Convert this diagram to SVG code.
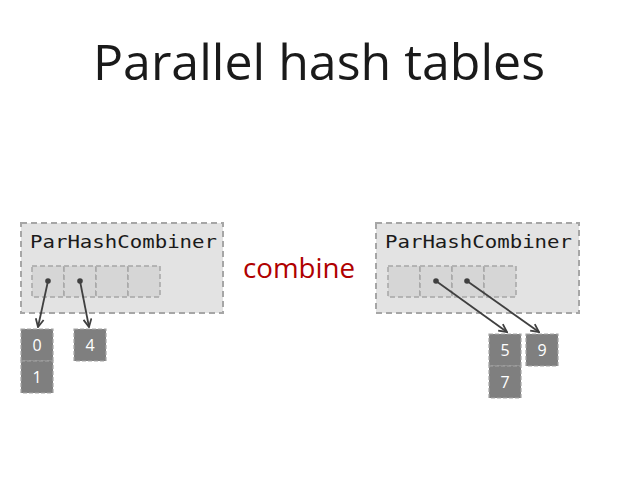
<svg xmlns="http://www.w3.org/2000/svg" width="638" height="479" viewBox="0 0 638 479">
<defs>
<style>
.container{fill:#e3e3e3;stroke:#a6a6a6;stroke-width:2;stroke-dasharray:6,4}
.cell{fill:#d6d6d6;stroke:#a6a6a6;stroke-width:1.5;stroke-dasharray:5,3}
.box{fill:#7f7f7f;stroke:#a6a6a6;stroke-width:1.2;stroke-dasharray:4,2}
.lbl{font-family:"DejaVu Sans Mono","Liberation Mono",monospace;font-size:18px;fill:#1a1a1a}
.num{font-family:"Open Sans","Liberation Sans",sans-serif;font-size:16px;fill:#ffffff;text-anchor:middle}
.edge{stroke:#404040;stroke-width:1.8;fill:none;marker-end:url(#arr);marker-start:url(#dot)}
</style>
<marker id="arr" viewBox="0 0 10 10" refX="9" refY="5" markerWidth="10" markerHeight="10" markerUnits="userSpaceOnUse" orient="auto">
<path d="M1,1 L9,5 L1,9" fill="none" stroke="#404040" stroke-width="1.8"/>
</marker>
<marker id="dot" viewBox="0 0 6 6" refX="3" refY="3" markerWidth="6" markerHeight="6" markerUnits="userSpaceOnUse">
<circle cx="3" cy="3" r="2.8" fill="#404040"/>
</marker>
</defs>
<rect width="638" height="479" fill="#ffffff"/>
<text x="319" y="80" text-anchor="middle" font-family="'Open Sans','Liberation Sans',sans-serif" font-size="50" fill="#1a1a1a" textLength="452" lengthAdjust="spacingAndGlyphs">Parallel hash tables</text>
<g id="left-combiner">
<rect class="container" x="21" y="223" width="202" height="90"/>
<text class="lbl" x="30" y="248" textLength="187" lengthAdjust="spacingAndGlyphs">ParHashCombiner</text>
<rect class="cell" x="32" y="266" width="32" height="31"/>
<rect class="cell" x="64" y="266" width="32" height="31"/>
<rect class="cell" x="96" y="266" width="32" height="31"/>
<rect class="cell" x="128" y="266" width="32" height="31"/>
</g>
<g id="right-combiner">
<rect class="container" x="376" y="223" width="203" height="90"/>
<text class="lbl" x="385" y="248" textLength="187" lengthAdjust="spacingAndGlyphs">ParHashCombiner</text>
<rect class="cell" x="388" y="266" width="32" height="31"/>
<rect class="cell" x="420" y="266" width="32" height="31"/>
<rect class="cell" x="452" y="266" width="32" height="31"/>
<rect class="cell" x="484" y="266" width="32" height="31"/>
</g>
<g id="combine-label">
<text x="299" y="278" text-anchor="middle" font-family="'Open Sans','Liberation Sans',sans-serif" font-size="27" fill="#b00000" textLength="112" lengthAdjust="spacingAndGlyphs">combine</text>
</g>
<g id="n0"><rect class="box" x="21" y="329" width="32" height="32"/><text class="num" x="37" y="351">0</text></g>
<g id="n1"><rect class="box" x="21" y="361" width="32" height="32"/><text class="num" x="37" y="383">1</text></g>
<g id="n4"><rect class="box" x="74" y="329" width="32" height="32"/><text class="num" x="90" y="351">4</text></g>
<g id="n5"><rect class="box" x="489" y="334" width="32" height="32"/><text class="num" x="505" y="356">5</text></g>
<g id="n7"><rect class="box" x="489" y="366" width="32" height="32"/><text class="num" x="505" y="388">7</text></g>
<g id="n9"><rect class="box" x="526" y="334" width="32" height="32"/><text class="num" x="542" y="356">9</text></g>
<g id="connectors">
<path class="edge" d="M48,281 L38,327"/>
<path class="edge" d="M80,281 L89,327"/>
<path class="edge" d="M436,281 L507,332"/>
<path class="edge" d="M467,281 L539,332"/>
</g>
</svg>
